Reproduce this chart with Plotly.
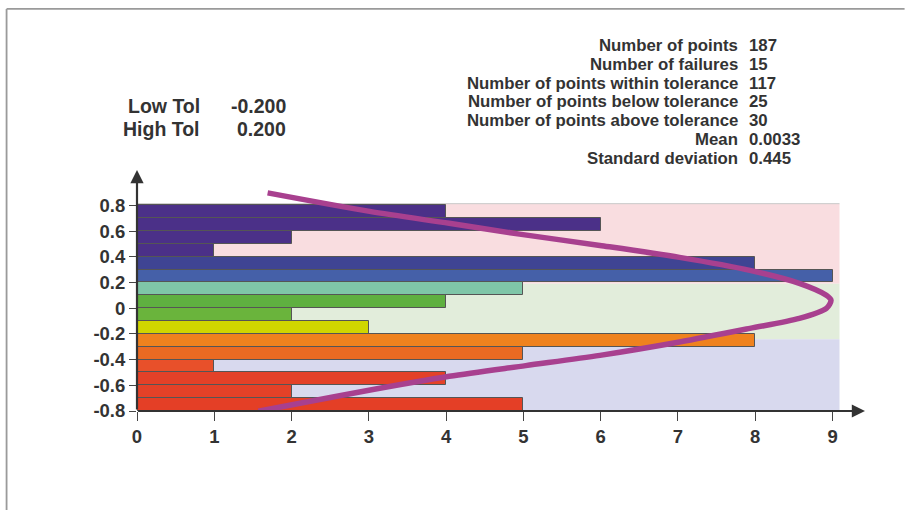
import plotly.graph_objects as go

# Histogram bins (0.1 wide), listed from top to bottom
bin_centers = [0.75, 0.65, 0.55, 0.45, 0.35, 0.25, 0.15, 0.05,
               -0.05, -0.15, -0.25, -0.35, -0.45, -0.55, -0.65, -0.75]
bin_counts = [4, 6, 2, 1, 8, 9, 5, 4, 2, 3, 8, 5, 1, 4, 2, 5]
bin_colors = ["#4b3088", "#4b3088", "#4b3088", "#4b3088", "#3f4493", "#4560a8",
              "#7fc6a8", "#5fb040", "#6ab43c", "#d0d600", "#ef821e", "#ea6a22",
              "#e8502a", "#e44128", "#e44128", "#e43f26"]
bin_width = 0.1

# Fitted distribution curve (count, value)
curve_x = [1.69, 3.01, 4.04, 4.95, 5.99, 7.02, 7.93, 8.57, 8.92, 8.98,
           8.92, 8.57, 7.93, 7.02, 5.99, 5.03, 4.04, 2.88, 2.11, 1.57]
curve_y = [0.897, 0.753, 0.660, 0.576, 0.488, 0.395, 0.294, 0.193, 0.100, 0.061,
           -0.001, -0.079, -0.157, -0.263, -0.367, -0.447, -0.530, -0.652, -0.740, -0.802]

# Tolerance zones: (low, high, colour)
zones = [(0.19, 0.813, "#f9dde0"), (-0.242, 0.19, "#e2eddb"), (-0.8, -0.242, "#d8d9ee")]
zone_extent = 9.09

# Summary statistics
stat_labels = ["Number of points", "Number of failures", "Number of points within tolerance",
               "Number of points below tolerance", "Number of points above tolerance",
               "Mean", "Standard deviation"]
stat_values = ["187", "15", "117", "25", "30", "0.0033", "0.445"]
tol_labels = ["Low Tol", "High Tol"]
tol_values = ["-0.200", "0.200"]

x_ticks = [0, 1, 2, 3, 4, 5, 6, 7, 8, 9]
y_ticks = [-0.8, -0.6, -0.4, -0.2, 0, 0.2, 0.4, 0.6, 0.8]
y_tick_text = ["-0.8", "-0.6", "-0.4", "-0.2", "0", "0.2", "0.4", "0.6", "0.8"]

X_RANGE = [0, 9.42]
Y_RANGE = [-0.8, 1.075]

W, H = 905, 510
L, R, T, B = 137, 39.6, 169.6, 99.3
PW, PH = W - L - R, H - T - B

FONT = "Liberation Sans, Arial, sans-serif"
TXT = "#333333"


def px(xp):
    return (xp - L) / PW


def py(yp):
    return 1 - (yp - T) / PH


fig = go.Figure()

fig.add_trace(go.Bar(
    x=bin_counts, y=bin_centers, width=bin_width, orientation="h",
    marker=dict(color=bin_colors, line=dict(color="#555555", width=1)),
    hoverinfo="skip", showlegend=False,
))

fig.add_trace(go.Scatter(
    x=curve_x, y=curve_y, mode="lines",
    line=dict(color="#a8408f", width=5.5, shape="spline", smoothing=0.8),
    hoverinfo="skip", showlegend=False, cliponaxis=False,
))

shapes = []
for lo, hi, col in zones:
    shapes.append(dict(type="rect", xref="x", yref="y", x0=0, x1=zone_extent, y0=lo, y1=hi,
                       fillcolor=col, line=dict(width=0), layer="below"))
shapes.append(dict(type="line", xref="x", yref="y", x0=0, x1=zone_extent,
                   y0=zones[0][1], y1=zones[0][1], line=dict(color="#c8c8c8", width=1), layer="below"))
# upper half of the x tick marks (they cross the axis line)
for t in x_ticks:
    shapes.append(dict(type="line", xref="x", yref="paper", x0=t, x1=t, y0=0, y1=8 / PH,
                       line=dict(color="#777777", width=1.2), layer="below"))
# outer frame
shapes.append(dict(type="line", xref="paper", yref="paper", x0=px(6.5), x1=px(905),
                   y0=py(8.5), y1=py(8.5), line=dict(color="#9a9a9a", width=1.8)))
shapes.append(dict(type="line", xref="paper", yref="paper", x0=px(6.5), x1=px(6.5),
                   y0=py(8.5), y1=py(512), line=dict(color="#9a9a9a", width=1.8)))

annotations = []
# axis lines with arrow heads
annotations.append(dict(xref="paper", yref="paper", x=1, y=0, ax=-PW, ay=0, text="",
                        showarrow=True, arrowhead=2, arrowsize=1.2, arrowwidth=2.2,
                        arrowcolor="#333333", standoff=0))
annotations.append(dict(xref="paper", yref="paper", x=0, y=1, ax=0, ay=PH, text="",
                        showarrow=True, arrowhead=2, arrowsize=1.2, arrowwidth=2.2,
                        arrowcolor="#333333", standoff=0))

row0, step = 45.0, 18.8
for i, (lab, val) in enumerate(zip(stat_labels, stat_values)):
    yy = py(row0 + i * step)
    annotations.append(dict(xref="paper", yref="paper", x=px(740.5), y=yy, text=lab,
                            xanchor="right", yanchor="middle", showarrow=False,
                            font=dict(family=FONT, size=16.8, color=TXT, weight="bold")))
    annotations.append(dict(xref="paper", yref="paper", x=px(747.5), y=yy, text=val,
                            xanchor="left", yanchor="middle", showarrow=False,
                            font=dict(family=FONT, size=16.8, color=TXT, weight="bold")))

for i, (lab, val) in enumerate(zip(tol_labels, tol_values)):
    yy = py(105.5 + i * 23)
    annotations.append(dict(xref="paper", yref="paper", x=px(202), y=yy, text=lab,
                            xanchor="right", yanchor="middle", showarrow=False,
                            font=dict(family=FONT, size=19.5, color=TXT, weight="bold")))
    annotations.append(dict(xref="paper", yref="paper", x=px(288.5), y=yy, text=val,
                            xanchor="right", yanchor="middle", showarrow=False,
                            font=dict(family=FONT, size=19.5, color=TXT, weight="bold")))

fig.update_layout(
    width=W, height=H,
    margin=dict(l=L, r=R, t=T, b=B, pad=0),
    paper_bgcolor="white", plot_bgcolor="rgba(0,0,0,0)",
    bargap=0, showlegend=False,
    shapes=shapes, annotations=annotations,
    xaxis=dict(range=X_RANGE, showgrid=False, zeroline=False, showline=False,
               tickvals=x_ticks, ticks="outside", ticklen=9, tickwidth=1.2, tickcolor="#444444",
               tickfont=dict(family=FONT, size=18.5, color=TXT, weight="bold"), fixedrange=True),
    yaxis=dict(range=Y_RANGE, showgrid=False, zeroline=False, showline=False,
               tickvals=y_ticks, ticktext=y_tick_text, ticks="outside", ticklen=7,
               tickwidth=1.2, tickcolor="#444444",
               tickfont=dict(family=FONT, size=18.5, color=TXT, weight="bold"), fixedrange=True),
)

fig.write_html("out.html")
